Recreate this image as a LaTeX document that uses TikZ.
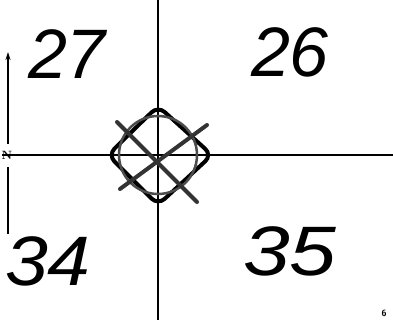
\documentclass[tikz,border=0pt]{standalone}
\usepackage{fontspec}
\newfontfamily\handfont{Liberation Sans}
\usetikzlibrary{arrows.meta}
\begin{document}
\begin{tikzpicture}[x=1pt,y=-1pt,
  axis/.style={line width=2.6pt,black},
  crossmark/.style={line width=4pt,black!80,line cap=round},
  numtext/.style={font=\handfont\fontsize{70}{70}\selectfont\itshape,inner sep=0pt},
  northline/.style={line width=2pt,black}]
\useasboundingbox (0,0) rectangle (393,323);
\fill[white] (0,0) rectangle (393,323);
% axes
\coordinate (vt) at (158,0);
\coordinate (vb) at (158,320);
\coordinate (hl) at (2,155);
\coordinate (hr) at (393,155);
\draw[axis] (vt) -- (vb);
\draw[axis] (hl) -- (hr);
% centre symbol
\coordinate (c) at (158,155);
\draw[crossmark,black,rounded corners=9pt] (158,106) -- (212,155) -- (158,205) -- (108,155) -- cycle;
\draw[line width=2.5pt,black!70] (c) circle (39);
\draw[crossmark] (117,122) -- (197,202);
\draw[crossmark] (207,125) -- (120,189);
% numbers
\node[numtext] (n27) at (67,54) {27};
\node[numtext] (n26) at (290,52) {26};
\node[numtext,xscale=1.1] (n34) at (48,261) {34};
\node[numtext,xscale=1.2] (n35) at (290,251) {35};
% north arrow
\coordinate (na) at (8,52);
\coordinate (nb) at (8,144);
\coordinate (nc) at (8,167);
\coordinate (nd) at (8,234);
\draw[northline,-{Stealth[length=8pt,width=5pt]}] (nb) -- (na);
\draw[northline] (nc) -- (nd);
\node[font=\bfseries\large,inner sep=0pt] (N) at (7,155) {N};
% page number
\node[font=\sffamily\bfseries\small,inner sep=0pt] (p6) at (384,313) {6};
\end{tikzpicture}
\end{document}
